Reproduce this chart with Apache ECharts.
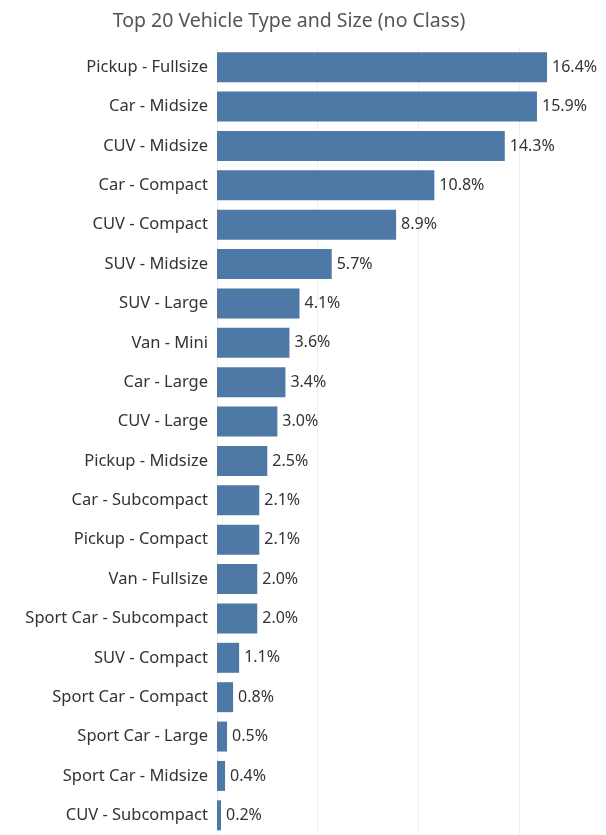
<!DOCTYPE html>
<html>
<head>
<meta charset="utf-8">
<script src="https://cdn.jsdelivr.net/npm/echarts@6/dist/echarts.min.js"></script>
<style>
html,body{margin:0;padding:0;background:#fff;}
#chart{width:606px;height:835px;}
</style>
</head>
<body>
<div id="chart"></div>
<script>
const categories = [
  "Pickup - Fullsize","Car - Midsize","CUV - Midsize","Car - Compact","CUV - Compact",
  "SUV - Midsize","SUV - Large","Van - Mini","Car - Large","CUV - Large",
  "Pickup - Midsize","Car - Subcompact","Pickup - Compact","Van - Fullsize","Sport Car - Subcompact",
  "SUV - Compact","Sport Car - Compact","Sport Car - Large","Sport Car - Midsize","CUV - Subcompact"
];
const values = [16.4,15.9,14.3,10.8,8.9,5.7,4.1,3.6,3.4,3.0,2.5,2.1,2.1,2.0,2.0,1.1,0.8,0.5,0.4,0.2];
const titleText = "Top 20 Vehicle Type and Size (no Class)";

const chart = echarts.init(document.getElementById('chart'), null, {renderer:'canvas'});
const FONT = "'Noto Sans', sans-serif";
chart.setOption({
  animation:false,
  backgroundColor:'#ffffff',
  title:{
    text:titleText,
    left:284, top:6, textAlign:'center',
    textStyle:{fontFamily:FONT,fontSize:19.5,fontWeight:'normal',color:'#555555'}
  },
  grid:{left:217, top:47.5, width:389, height:792, containLabel:false},
  xAxis:{
    type:'value', min:0, max:19.33, interval:5,
    axisLabel:{show:false}, axisLine:{show:false}, axisTick:{show:false},
    splitLine:{show:true, lineStyle:{color:'#efefef', width:1}}
  },
  yAxis:{
    type:'category', data:categories, inverse:true,
    axisLine:{show:false}, axisTick:{show:false},
    axisLabel:{fontFamily:FONT, fontSize:16.5, color:'#333333', margin:9}
  },
  series:[{
    type:'bar', data:values, barWidth:30,
    itemStyle:{color:'#4e79a7'},
    label:{show:true, position:'right', distance:5, formatter:p=>p.value.toFixed(1)+'%',
      fontFamily:FONT, fontSize:16, color:'#333333'}
  }]
});
</script>
</body>
</html>
